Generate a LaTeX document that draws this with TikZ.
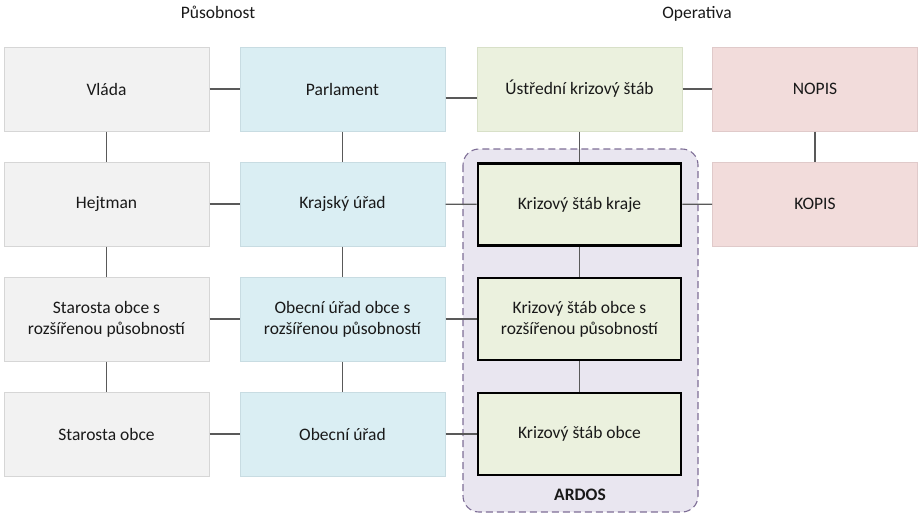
\documentclass[tikz,border=0pt]{standalone}
\usepackage{fontspec}
\setmainfont{Carlito}
\definecolor{greyfill}{HTML}{F2F2F2}
\definecolor{greyline}{HTML}{D6D6D6}
\definecolor{bluefill}{HTML}{DAEEF3}
\definecolor{blueline}{HTML}{C8DCE2}
\definecolor{greenfill}{HTML}{EBF1DE}
\definecolor{greenline}{HTML}{D8E0C8}
\definecolor{pinkfill}{HTML}{F2DCDB}
\definecolor{pinkline}{HTML}{E0CACA}
\definecolor{ardosfill}{HTML}{E9E6F0}
\definecolor{ardosline}{HTML}{7E6E96}
\definecolor{conn}{HTML}{595959}
\begin{document}
\begin{tikzpicture}[x=1pt,y=-1pt,
  box/.style={rectangle, minimum width=205pt, minimum height=84pt, inner sep=0pt, align=center, font=\fontsize{17.5}{21}\selectfont, text=black!90, line width=1pt},
  gbox/.style={box, fill=greyfill, draw=greyline},
  bbox/.style={box, fill=bluefill, draw=blueline},
  ebox/.style={box, fill=greenfill, draw=greenline},
  kbox/.style={box, fill=greenfill, draw=black, line width=2.6pt, minimum width=203pt, minimum height=82pt},
  pbox/.style={box, fill=pinkfill, draw=pinkline},
  link/.style={draw=conn, line width=1.2pt},
  header/.style={font=\fontsize{17.5}{21}\selectfont, text=black!90}
]
\useasboundingbox (0,0) rectangle (924,517);
% ARDOS background
\draw[fill=ardosfill, draw=ardosline, line width=1.1pt, dash pattern=on 7pt off 4pt, rounded corners=16pt] (463,149) rectangle (698,512);
\node[font=\fontsize{17.5}{21}\selectfont\bfseries, text=black!90] (ardos) at (580,495) {ARDOS};

\node[header] (pusob) at (218,12) {Působnost};
\node[header] (oper) at (697,14) {Operativa};

% column 1
\node[gbox] (vlada) at (106.5,89) {Vláda};
\node[gbox] (hejt) at (106.5,204) {Hejtman};
\node[gbox] (starorp) at (106.5,319) {Starosta obce s\\rozšířenou působností};
\node[gbox] (star) at (106.5,434) {Starosta obce};
% column 2
\node[bbox] (parl) at (342.5,89) {Parlament};
\node[bbox] (kraj) at (342.5,204) {Krajský úřad};
\node[bbox] (obecorp) at (342.5,319) {Obecní úřad obce s\\rozšířenou působností};
\node[bbox] (obec) at (342.5,434) {Obecní úřad};
% column 3
\node[ebox] (ustr) at (579.5,89) {Ústřední krizový štáb};
\node[kbox] (kskraj) at (579.5,204.5) {Krizový štáb kraje};
\node[kbox] (ksorp) at (579.5,319) {Krizový štáb obce s\\rozšířenou působností};
\node[kbox] (ksobec) at (579.5,434) {Krizový štáb obce};
% column 4
\node[pbox] (nopis) at (815,89) {NOPIS};
\node[pbox] (kopis) at (815,204) {KOPIS};

% horizontal links
\draw[link] (vlada) -- (parl);
\draw[link] (parl.east |- 0,98) -- (ustr.west |- 0,98);
\draw[link] (ustr) -- (nopis);
\draw[link] (hejt) -- (kraj);
\draw[link] (kraj) -- (kskraj);
\draw[link] (kskraj) -- (kopis);
\draw[link] (starorp) -- (obecorp);
\draw[link] (obecorp) -- (ksorp);
\draw[link] (star) -- (obec);
\draw[link] (obec) -- (ksobec);
% vertical links
\draw[link] (vlada) -- (hejt);
\draw[link] (hejt) -- (starorp);
\draw[link] (starorp) -- (star);
\draw[link] (parl) -- (kraj);
\draw[link] (kraj) -- (obecorp);
\draw[link] (obecorp) -- (obec);
\draw[link] (ustr) -- (kskraj);
\draw[link] (kskraj) -- (ksorp);
\draw[link] (ksorp) -- (ksobec);
\draw[link] (nopis) -- (kopis);
\end{tikzpicture}
\end{document}
